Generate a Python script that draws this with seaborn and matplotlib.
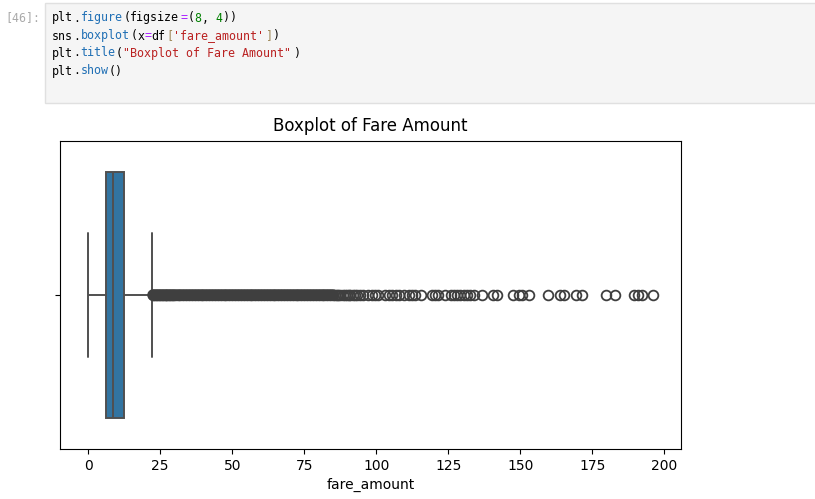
import matplotlib
matplotlib.use("Agg")
import matplotlib.pyplot as plt
from matplotlib.patches import Rectangle
import numpy as np
import seaborn as sns

W, H = 815, 499

core_values = [0.0, 6.0, 8.5, 12.5, 22.25]
core_counts = [100, 800, 700, 600, 100]

dense_fares = [
    22.5, 23.0, 23.5, 24.0, 24.5, 25.0, 25.5, 26.0, 26.5, 27.0, 27.5, 28.0, 28.5, 29.0, 29.5, 30.0,
    31.0, 32.0, 33.0, 34.0, 35.0, 36.0, 37.0, 38.0, 39.0, 40.0, 41.0, 42.0, 43.0, 44.0, 45.0, 46.0,
    47.0, 48.0, 49.0, 50.0, 51.0, 52.0, 53.0, 54.0, 55.0, 56.0, 57.0, 58.0, 59.0, 60.0, 61.0, 62.0,
    63.0, 64.0, 65.0, 66.0, 67.0, 68.0, 69.0, 70.0, 71.0, 72.0, 73.0, 74.0, 75.0, 76.0, 77.0, 78.0,
    79.0, 80.0, 81.0, 82.0, 83.0, 84.0, 85.0,
]
sparse_fares = [
    85.6, 86.2, 86.8, 87.5, 88.5, 89.0, 89.7, 90.5, 91.0, 91.8, 92.6, 93.4, 94.5, 95.5, 97.0, 98.5,
    99.5, 100.5, 103.0, 104.5, 105.5, 107.0, 108.0, 109.5, 111.5, 112.5, 113.5, 115.5, 119.5, 120.5,
    121.5, 124.0, 126.0, 127.0, 128.0, 129.2, 130.3, 131.5, 132.7, 134.1, 136.8, 140.4, 141.9,
    147.5, 149.4, 150.6, 153.0, 159.7, 163.7, 165.1, 169.3, 171.6, 179.8, 182.8,
    189.4, 191.0, 192.2, 196.0,
]
solid_band_x = [22.5, 85.0]
solid_band_y = [0, 0]

fare_amount = np.concatenate([np.repeat(core_values, core_counts), dense_fares, sparse_fares])

prompt_text = "[46]:"
code_lines = [
    [("plt", "#000000"), (".", "#000000"), ("figure", "#1f6fb5"), ("(", "#000000"), ("figsize", "#000000"), ("=", "#aa22ff"),
     ("(", "#000000"), ("8", "#008000"), (", ", "#000000"), ("4", "#008000"), ("))", "#000000")],
    [("sns", "#000000"), (".", "#000000"), ("boxplot", "#1f6fb5"), ("(", "#000000"), ("x", "#000000"), ("=", "#aa22ff"),
     ("df", "#000000"), ("[", "#a08a5a"), ("'fare_amount'", "#ba2121"), ("]", "#a08a5a"), (")", "#000000")],
    [("plt", "#000000"), (".", "#000000"), ("title", "#1f6fb5"), ("(", "#000000"), ('"Boxplot of Fare Amount"', "#ba2121"), (")", "#000000")],
    [("plt", "#000000"), (".", "#000000"), ("show", "#1f6fb5"), ("()", "#000000")],
]
line_y = [18, 36, 53, 71]

sns.set_theme(style="white", rc={"axes.edgecolor": "black", "xtick.bottom": True, "ytick.left": True,
                                 "axes.labelcolor": "black", "xtick.color": "black", "ytick.color": "black",
                                 "text.color": "black", "axes.linewidth": 0.8, "xtick.major.size": 3.5,
                                 "ytick.major.size": 3.5, "xtick.major.width": 0.8, "ytick.major.width": 0.8,
                                 "font.size": 10, "axes.labelsize": 10, "axes.titlesize": 12,
                                 "xtick.labelsize": 10, "ytick.labelsize": 10})
plt.rcParams["font.family"] = ["DejaVu Sans"]

fig = plt.figure(figsize=(W / 100, H / 100), dpi=100, facecolor="white")
ax = fig.add_axes([60 / W, 1 - 449 / H, 621 / W, 308 / H])

sns.boxplot(x=fare_amount, ax=ax, color="#1f77b4", saturation=0.75, linewidth=1.4, linecolor="#505050",
            flierprops={"markersize": 7, "markeredgewidth": 1.3, "markeredgecolor": "#3f3f3f"})
xlim, ylim = ax.get_xlim(), ax.get_ylim()
# the flier circles overlap so heavily here that they read as one solid band
ax.plot(solid_band_x, solid_band_y, color="#3f3f3f", linewidth=8.3, solid_capstyle="round", zorder=5)
ax.set_xlim(xlim)
ax.set_ylim(ylim)
ax.set_title("Boxplot of Fare Amount", pad=7)
ax.set_xlabel("fare_amount")

# notebook code cell above the figure
fig.add_artist(Rectangle((45 / W, 1 - 103 / H), 775 / W, 100 / H, transform=fig.transFigure,
                         facecolor="#f5f5f5", edgecolor="#e0e0e0", linewidth=1))
CHAR = 7.12
fig.text(5 / W, 1 - 18 / H, prompt_text, family="DejaVu Sans Mono", fontsize=8.4, color="#aaaaaa", va="center")
for segments, y in zip(code_lines, line_y):
    col = 0
    for text, color in segments:
        fig.text((52 + col * CHAR) / W, 1 - y / H, text, family="DejaVu Sans Mono", fontsize=8.4,
                 color=color, va="center")
        col += len(text)

fig.savefig("out.png", dpi=100)
